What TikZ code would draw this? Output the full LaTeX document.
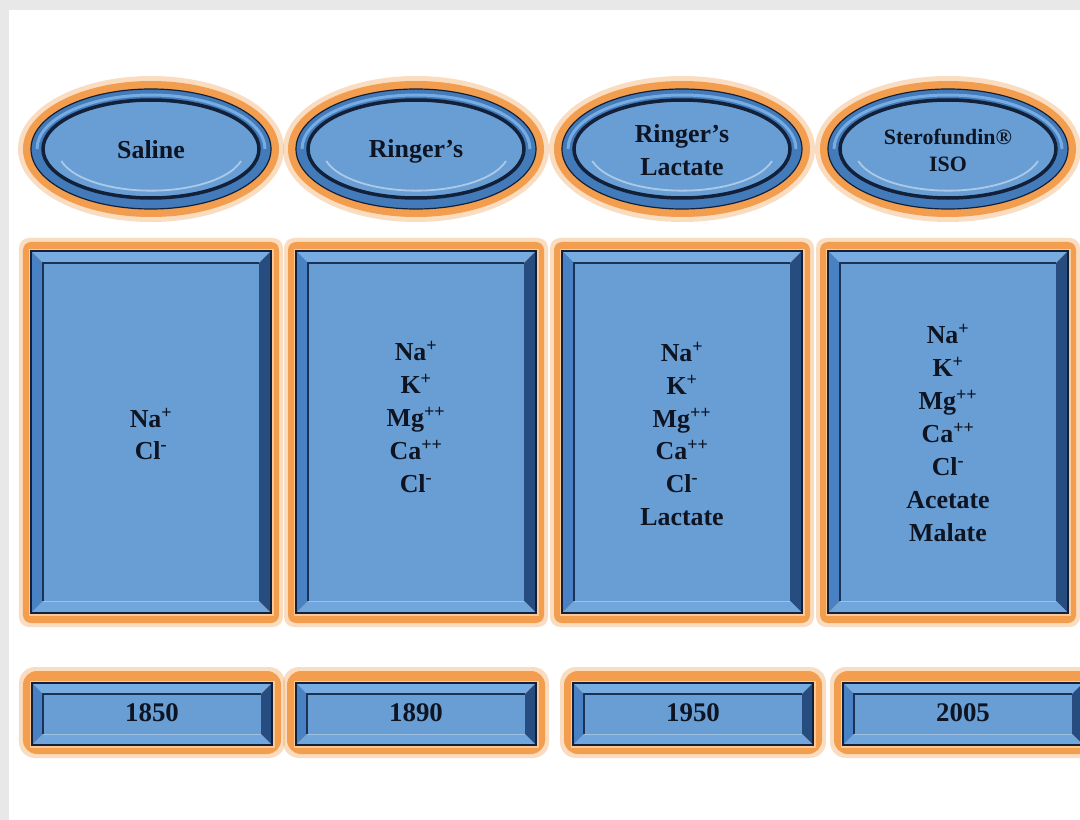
\documentclass[tikz,border=0pt]{standalone}
\usepackage{fontspec}
\setmainfont{Liberation Serif}
\usetikzlibrary{shapes.geometric}
\definecolor{bggray}{RGB}{232,232,232}
\definecolor{orangeC}{RGB}{242,158,78}
\definecolor{orangeL}{RGB}{252,200,150}
\definecolor{frameB}{RGB}{66,122,186}
\definecolor{panelB}{RGB}{104,158,212}
\definecolor{bvtop}{RGB}{118,172,226}
\definecolor{bvleft}{RGB}{72,130,196}
\definecolor{bvright}{RGB}{38,76,128}
\definecolor{bvbot}{RGB}{112,166,220}
\definecolor{darkE}{RGB}{18,32,58}
\definecolor{textC}{RGB}{14,20,34}
\newcommand{\bevrect}[5]{%
  \pgfmathsetmacro\bvxa{#1+#5}\pgfmathsetmacro\bvya{#2+#5}%
  \pgfmathsetmacro\bvxb{#3-#5}\pgfmathsetmacro\bvyb{#4-#5}%
  \draw[orangeL, line width=3bp] (#1-1,#2-1) rectangle (#3+1,#4+1);
  \fill[bvtop] (#1,#2) -- (#3,#2) -- (\bvxb,\bvya) -- (\bvxa,\bvya) -- cycle;
  \fill[bvleft] (#1,#2) -- (\bvxa,\bvya) -- (\bvxa,\bvyb) -- (#1,#4) -- cycle;
  \fill[bvright] (#3,#2) -- (#3,#4) -- (\bvxb,\bvyb) -- (\bvxb,\bvya) -- cycle;
  \fill[bvbot] (#1,#4) -- (\bvxa,\bvyb) -- (\bvxb,\bvyb) -- (#3,#4) -- cycle;
  \fill[panelB] (\bvxa,\bvya) rectangle (\bvxb,\bvyb);
  \draw[darkE!80!frameB, line width=1.6bp] (\bvxa,\bvyb) -- (\bvxa,\bvya) -- (\bvxb,\bvya);
  \draw[white!35!panelB, line width=1bp] (\bvxa,\bvyb) -- (\bvxb,\bvyb);
  \draw[darkE, line width=1.5bp] (#1,#2) rectangle (#3,#4);
}
\tikzset{
  halo/.style={fill=orangeC, opacity=.35, draw=none},
  glow/.style={fill=orangeC, draw=none},
  lbl/.style={font=\bfseries\fontsize{26}{33}\selectfont, text=textC, align=center, inner sep=0pt},
  smalllbl/.style={font=\bfseries\fontsize{22}{27}\selectfont, text=textC, align=center, inner sep=0pt},
  ion/.style={font=\bfseries\fontsize{26}{33}\selectfont, text=textC, align=center, inner sep=0pt},
  yr/.style={font=\bfseries\fontsize{27}{30}\selectfont, text=textC, inner sep=0pt},
}
\begin{document}
\begin{tikzpicture}[x=1bp,y=-1bp]
\useasboundingbox (0,0) rectangle (1080,820);
\clip (0,0) rectangle (1080,820);
\fill[bggray] (0,0) rectangle (1080,820);
\fill[white] (9,10) rectangle (1080,820);
\foreach \i/\cx/\bx in {1/151/152,2/416/416,3/682/693,4/948/963}{
  % ellipse header
  \node[ellipse, halo, minimum width=266bp, minimum height=146bp] (eh\i) at (\cx,149) {};
  \node[ellipse, glow, minimum width=256bp, minimum height=136bp] (eo\i) at (\cx,149) {};
  \node[ellipse, fill=frameB, draw=darkE, line width=1.2bp, minimum width=240bp, minimum height=120bp] (eb\i) at (\cx,149) {};
  \begin{scope}[shift={(\cx,149)}]
    \draw[bvtop, line width=3bp] (-114,0) arc[start angle=180, end angle=360, x radius=114, y radius=54];
  \end{scope}
  \node[ellipse, fill=panelB, draw=darkE, line width=3.5bp, minimum width=216bp, minimum height=98bp] (ei\i) at (\cx,149) {};
  \begin{scope}[shift={(\cx,149)}]
    \draw[white!45!panelB, line width=1.8bp] (90,12) arc[start angle=15, end angle=165, x radius=93, y radius=40];
  \end{scope}
  % main box
  \node[rectangle, halo, rounded corners=10bp, minimum width=264bp, minimum height=389bp] (bh\i) at (\cx,432.5) {};
  \node[rectangle, glow, rounded corners=8bp, minimum width=256bp, minimum height=381bp] (box\i) at (\cx,432.5) {};
  \bevrect{\cx-120}{251}{\cx+120}{613}{12}
  % year bar
  \node[rectangle, halo, rounded corners=16bp, minimum width=266bp, minimum height=91bp] (yh\i) at (\bx,712.5) {};
  \node[rectangle, glow, rounded corners=14bp, minimum width=258bp, minimum height=83bp] (bar\i) at (\bx,712.5) {};
  \bevrect{\bx-120}{683}{\bx+120}{745}{11}
}
% header labels
\node[lbl] (t1) at (151,150) {Saline};
\node[lbl] (t2) at (416,151) {Ringer’s};
\node[lbl] (t3) at (682,150) {Ringer’s\\Lactate};
\node[smalllbl] (t4) at (948,150) {Sterofundin®\\ISO};
% ion lists
\node[ion] (c1) at (151,434) {Na\textsuperscript{+}\\Cl\textsuperscript{-}};
\node[ion] (c2) at (416,417) {Na\textsuperscript{+}\\K\textsuperscript{+}\\Mg\textsuperscript{++}\\Ca\textsuperscript{++}\\Cl\textsuperscript{-}};
\node[ion] (c3) at (682,434) {Na\textsuperscript{+}\\K\textsuperscript{+}\\Mg\textsuperscript{++}\\Ca\textsuperscript{++}\\Cl\textsuperscript{-}\\Lactate};
\node[ion] (c4) at (948,433) {Na\textsuperscript{+}\\K\textsuperscript{+}\\Mg\textsuperscript{++}\\Ca\textsuperscript{++}\\Cl\textsuperscript{-}\\Acetate\\Malate};
% years
\node[yr] (y1) at (152,713) {1850};
\node[yr] (y2) at (416,713) {1890};
\node[yr] (y3) at (693,713) {1950};
\node[yr] (y4) at (963,713) {2005};
\end{tikzpicture}
\end{document}
